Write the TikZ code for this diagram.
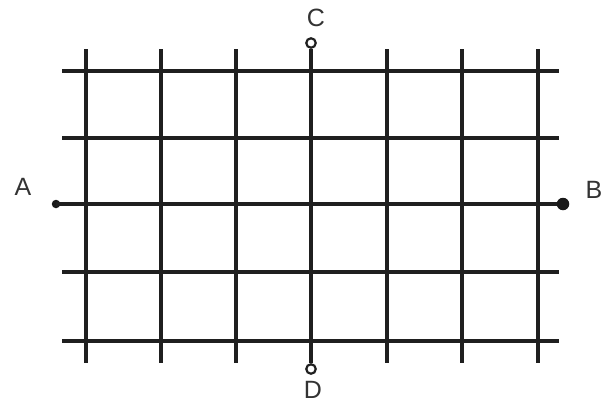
\documentclass[tikz,border=0pt]{standalone}
\usepackage{fontspec}
\setmainfont{Liberation Sans}
\begin{document}
\begin{tikzpicture}[x=1pt,y=-1pt,
  gridline/.style={line width=3.1pt,color=black!88},
  lbl/.style={font=\fontsize{25}{25}\selectfont,text=black!80,inner sep=0pt},
  opendot/.style={circle,draw=black!88,line width=2.2pt,fill=white,minimum size=9.5pt,inner sep=0pt},
  soliddot/.style={circle,fill=black!90,inner sep=0pt}]
\useasboundingbox (0,0) rectangle (609,404);
% horizontal lines
\foreach \y in {71,138,272,341}{
  \draw[gridline] (62,\y) -- (559,\y);
}
% vertical lines
\foreach \x in {86,161,236,387,462,538}{
  \draw[gridline] (\x,49) -- (\x,363);
}
% points
\node[soliddot,minimum size=8.5pt] (A) at (56,204) {};
\node[soliddot,minimum size=12.5pt] (B) at (563,204) {};
\node[opendot] (C) at (311,43) {};
\node[opendot] (D) at (311,369) {};
\draw[gridline] (A.center) -- (B.west);
\draw[gridline] (C.south) -- (D.north);
\node[lbl] (lA) at (23,187) {A};
\node[lbl] (lB) at (594,190) {B};
\node[lbl] (lC) at (316,18) {C};
\node[lbl] (lD) at (313,390) {D};
\end{tikzpicture}
\end{document}
